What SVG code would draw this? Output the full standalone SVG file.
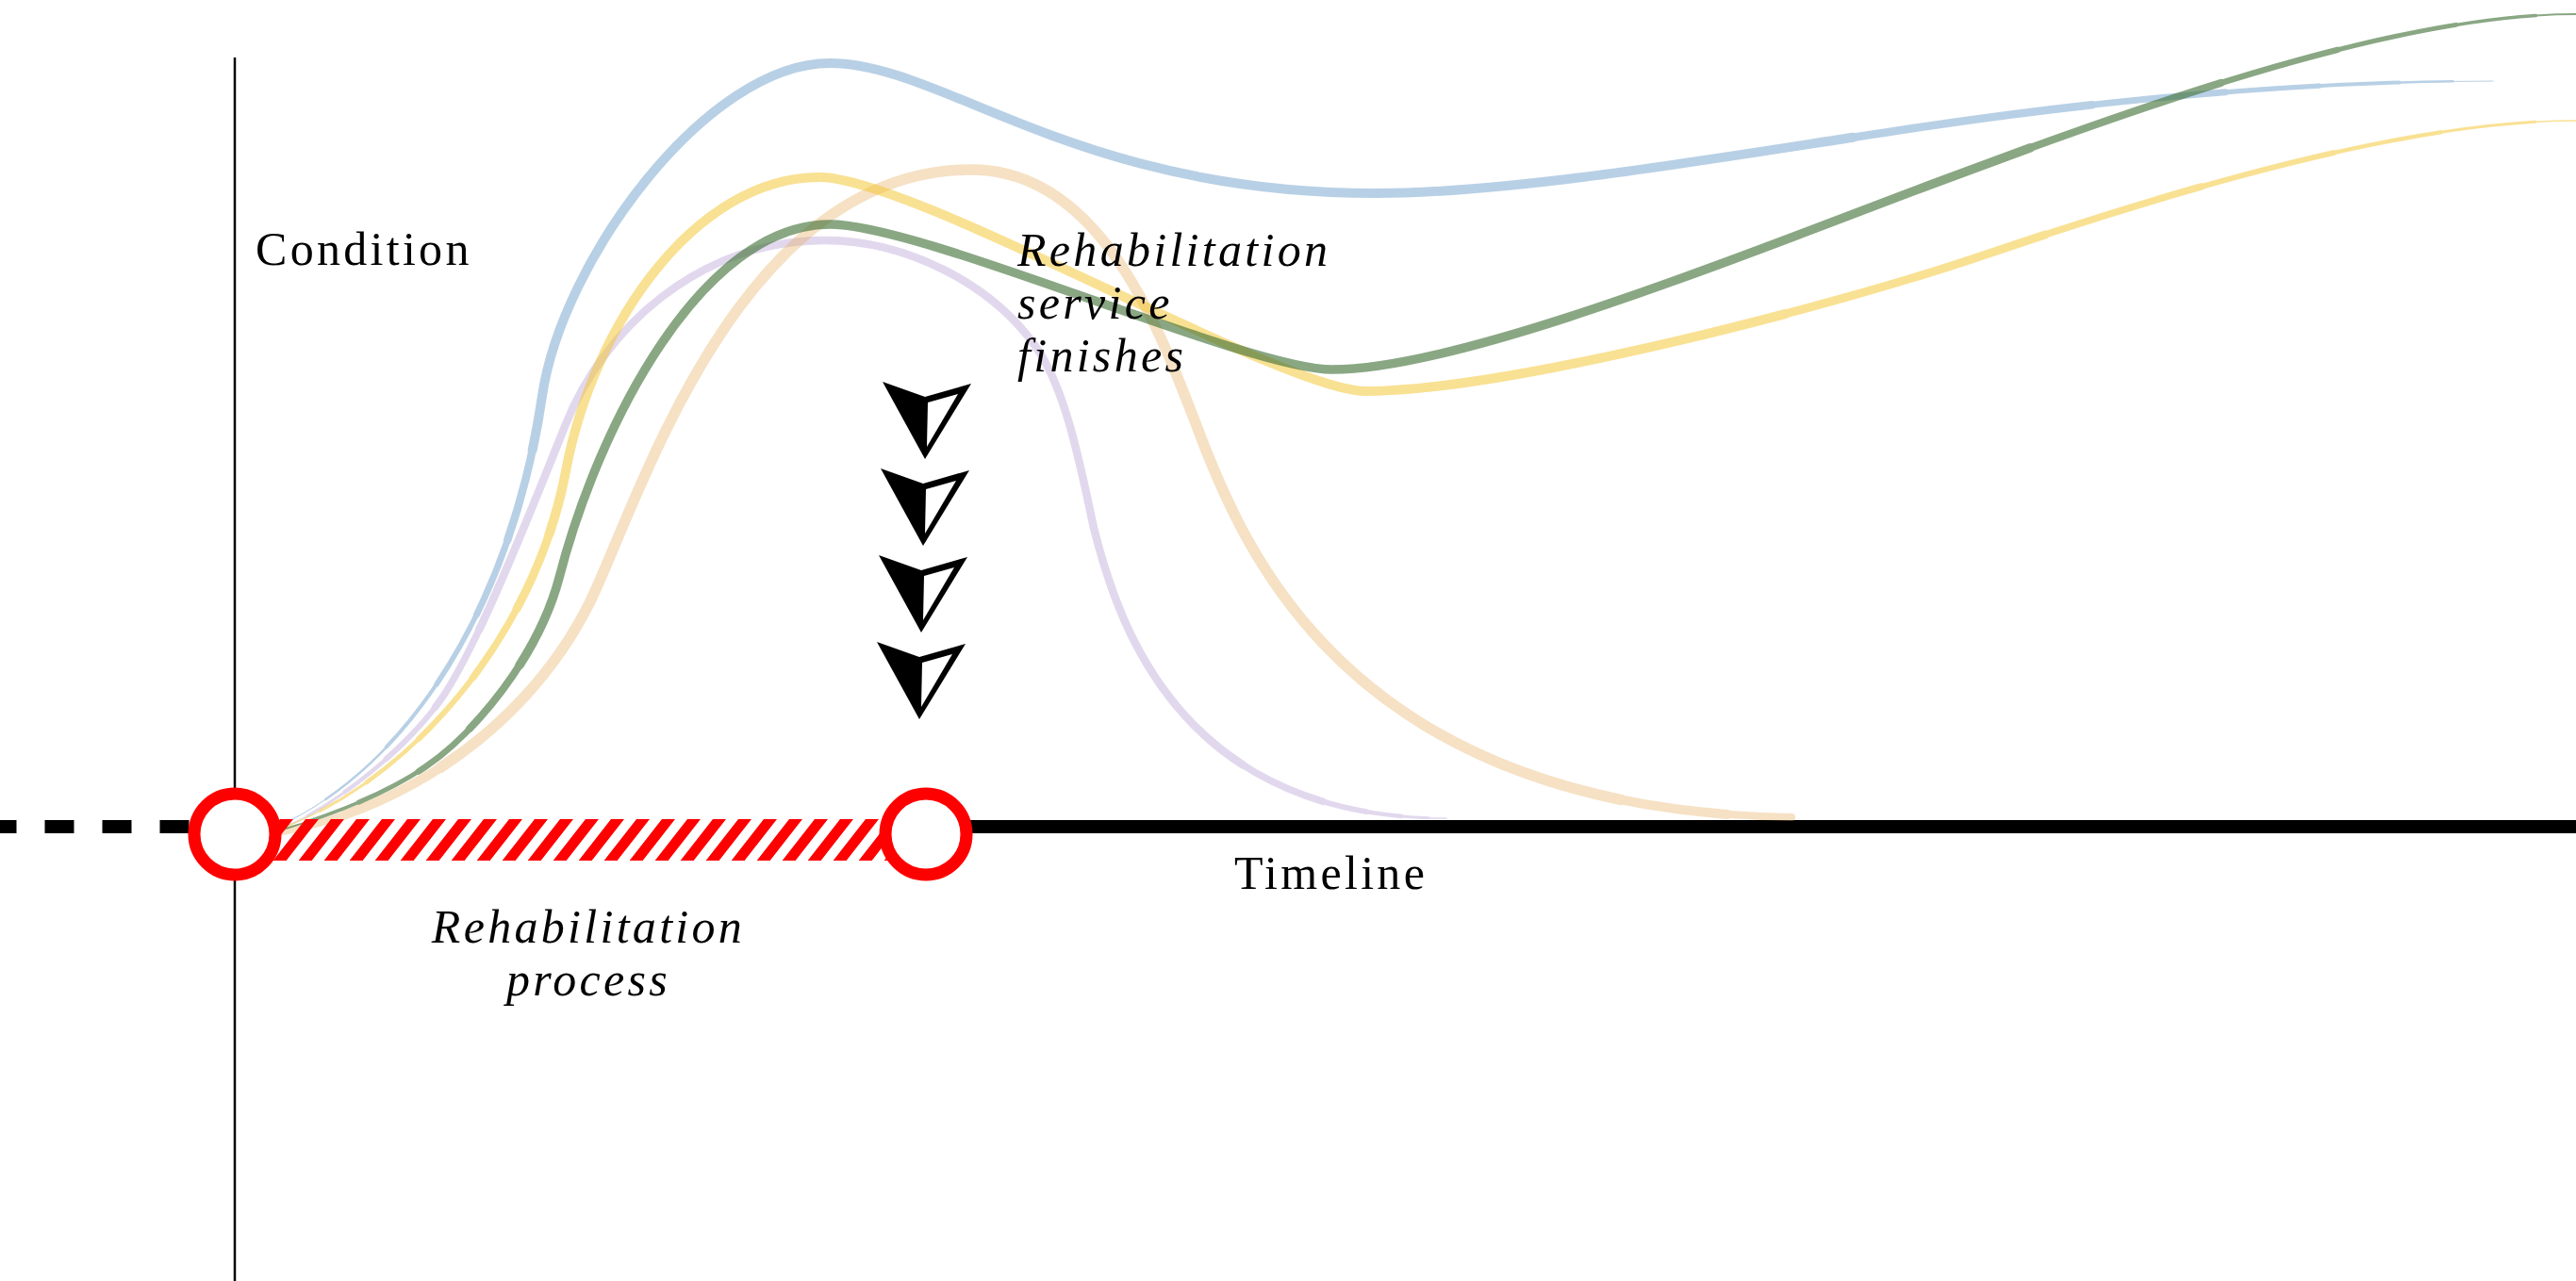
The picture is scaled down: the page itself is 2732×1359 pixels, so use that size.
<svg xmlns="http://www.w3.org/2000/svg" width="2732" height="1359" viewBox="0 0 2732 1359">
<style>
  .lbl { font-family: "Liberation Serif", "Times New Roman", serif; font-size: 50px; letter-spacing: 3.3px; fill: #000; }
  .it { font-style: italic; }
  .ring { fill: #fff; stroke: #ff0000; stroke-width: 13; }
  .curve { fill: none; stroke-linecap: round; }
</style>
<defs>
  <pattern id="hatch" patternUnits="userSpaceOnUse" width="27" height="44" patternTransform="translate(0,869) skewX(-38)">
    <rect x="0" y="0" width="14" height="44" fill="#ff0000"/>
  </pattern>
  <path id="p-blue" pathLength="1000" d="M296,876 C420,820 540,660 575,420 C596,276 750,67 880,67 C1000,67 1140,205 1459,205 C1620,205 1870,159 2050,133 C2250,104 2450,86 2644,86"/>
  <path id="p-yellow" pathLength="1000" d="M300,878 C430,830 566,680 600,500 C630,340 740,188 869,188 C970,188 1360,415 1448,415 C1600,415 1950,323 2100,272 C2300,204 2550,128 2732,128"/>
  <path id="p-green" pathLength="1000" d="M300,880 C350,865 410,842 452,813 C500,780 570,700 593,613 C635,450 745,238 880,238 C980,238 1322,392 1413,392 C1550,392 1850,270 2050,195 C2300,101 2550,15 2732,15"/>
  <path id="p-purple" pathLength="1000" d="M300,878 C350,858 425,800 464,747 C503,695 560,550 600,450 C640,350 740,255 875,255 C960,255 1050,300 1098,367 C1130,412 1145,490 1160,560 C1185,660 1250,868 1534,868"/>
  <path id="p-tan" pathLength="1000" d="M300,882 C430,858 560,770 625,640 C675,540 780,180 1030,180 C1180,180 1240,380 1280,480 C1330,605 1450,860 1900,867"/>
  <g id="marker-arrow">
    <polygon points="936,405 981,421 1030,407 981,487" fill="#000"/>
    <polygon points="984,427 1016,418 983,474" fill="#fff"/>
  </g>
</defs>

<g id="axis">
  <line x1="249" y1="61" x2="249" y2="1359" stroke="#000" stroke-width="2.5"/>
</g>

<g id="timeline">
  <line x1="0" y1="877" x2="249" y2="877" stroke="#000" stroke-width="14" stroke-dasharray="31 30" stroke-dashoffset="13.5"/>
  <line x1="982" y1="877" x2="2732" y2="877" stroke="#000" stroke-width="14"/>
</g>

<g id="connectors">
  <g id="curve-blue" class="curve" stroke="#74a3cd" opacity="0.5">
    <use href="#p-blue" stroke-width="1.2"/>
    <use href="#p-blue" stroke-width="2.5" stroke-dasharray="965 3000" stroke-dashoffset="-20"/>
    <use href="#p-blue" stroke-width="4" stroke-dasharray="915 3000" stroke-dashoffset="-50"/>
    <use href="#p-blue" stroke-width="5.5" stroke-dasharray="855 3000" stroke-dashoffset="-80"/>
    <use href="#p-blue" stroke-width="7" stroke-dasharray="790 3000" stroke-dashoffset="-110"/>
    <use href="#p-blue" stroke-width="8.5" stroke-dasharray="710 3000" stroke-dashoffset="-140"/>
    <use href="#p-blue" stroke-width="10" stroke-dasharray="585 3000" stroke-dashoffset="-175"/>
  </g>
  <g id="curve-purple" class="curve" stroke="#a182c8" opacity="0.3">
    <use href="#p-purple" stroke-width="1.5"/>
    <use href="#p-purple" stroke-width="3" stroke-dasharray="975 3000" stroke-dashoffset="-15"/>
    <use href="#p-purple" stroke-width="4.5" stroke-dasharray="935 3000" stroke-dashoffset="-40"/>
    <use href="#p-purple" stroke-width="6" stroke-dasharray="885 3000" stroke-dashoffset="-70"/>
    <use href="#p-purple" stroke-width="7.5" stroke-dasharray="820 3000" stroke-dashoffset="-110"/>
    <use href="#p-purple" stroke-width="8.5" stroke-dasharray="720 3000" stroke-dashoffset="-160"/>
  </g>
  <g id="curve-tan" class="curve" stroke="#e6aa5a" opacity="0.35" stroke-linecap="butt">
    <use href="#p-tan" stroke-width="8"/>
    <use href="#p-tan" stroke-width="10" stroke-dasharray="940 3000" stroke-dashoffset="-30"/>
    <use href="#p-tan" stroke-width="11.5" stroke-dasharray="840 3000" stroke-dashoffset="-80"/>
  </g>
  <g id="curve-yellow" class="curve" stroke="#f5c52a" opacity="0.5">
    <use href="#p-yellow" stroke-width="1.5"/>
    <use href="#p-yellow" stroke-width="3" stroke-dasharray="970 3000" stroke-dashoffset="-15"/>
    <use href="#p-yellow" stroke-width="4.5" stroke-dasharray="915 3000" stroke-dashoffset="-35"/>
    <use href="#p-yellow" stroke-width="6" stroke-dasharray="850 3000" stroke-dashoffset="-60"/>
    <use href="#p-yellow" stroke-width="7.5" stroke-dasharray="770 3000" stroke-dashoffset="-90"/>
    <use href="#p-yellow" stroke-width="9" stroke-dasharray="680 3000" stroke-dashoffset="-120"/>
    <use href="#p-yellow" stroke-width="10" stroke-dasharray="550 3000" stroke-dashoffset="-150"/>
  </g>
  <g id="curve-green" class="curve" stroke="#3c6e32" opacity="0.6">
    <use href="#p-green" stroke-width="2"/>
    <use href="#p-green" stroke-width="3.5" stroke-dasharray="975 3000" stroke-dashoffset="-10"/>
    <use href="#p-green" stroke-width="5" stroke-dasharray="925 3000" stroke-dashoffset="-30"/>
    <use href="#p-green" stroke-width="6.5" stroke-dasharray="855 3000" stroke-dashoffset="-55"/>
    <use href="#p-green" stroke-width="8" stroke-dasharray="785 3000" stroke-dashoffset="-80"/>
    <use href="#p-green" stroke-width="9.5" stroke-dasharray="680 3000" stroke-dashoffset="-110"/>
  </g>
</g>

<g id="rehab-process-bar">
  <rect x="249" y="869" width="733" height="44" fill="url(#hatch)"/>
</g>

<g id="node-start">
  <circle class="ring" cx="249" cy="885" r="43"/>
</g>
<g id="node-end">
  <circle class="ring" cx="982" cy="885" r="43"/>
</g>

<g id="arrows">
  <use href="#marker-arrow"/>
  <use href="#marker-arrow" transform="translate(-2,92)"/>
  <use href="#marker-arrow" transform="translate(-4,184)"/>
  <use href="#marker-arrow" transform="translate(-6,276)"/>
</g>

<g id="label-condition">
  <text class="lbl" x="271" y="281">Condition</text>
</g>
<g id="label-timeline">
  <text class="lbl" x="1309" y="943">Timeline</text>
</g>
<g id="label-service-finishes">
  <text class="lbl it" x="1079" y="282">Rehabilitation</text>
  <text class="lbl it" x="1079" y="338">service</text>
  <text class="lbl it" x="1079" y="394">finishes</text>
</g>
<g id="label-rehab-process">
  <text class="lbl it" x="624" y="1000" text-anchor="middle">Rehabilitation</text>
  <text class="lbl it" x="624" y="1056" text-anchor="middle">process</text>
</g>
</svg>
